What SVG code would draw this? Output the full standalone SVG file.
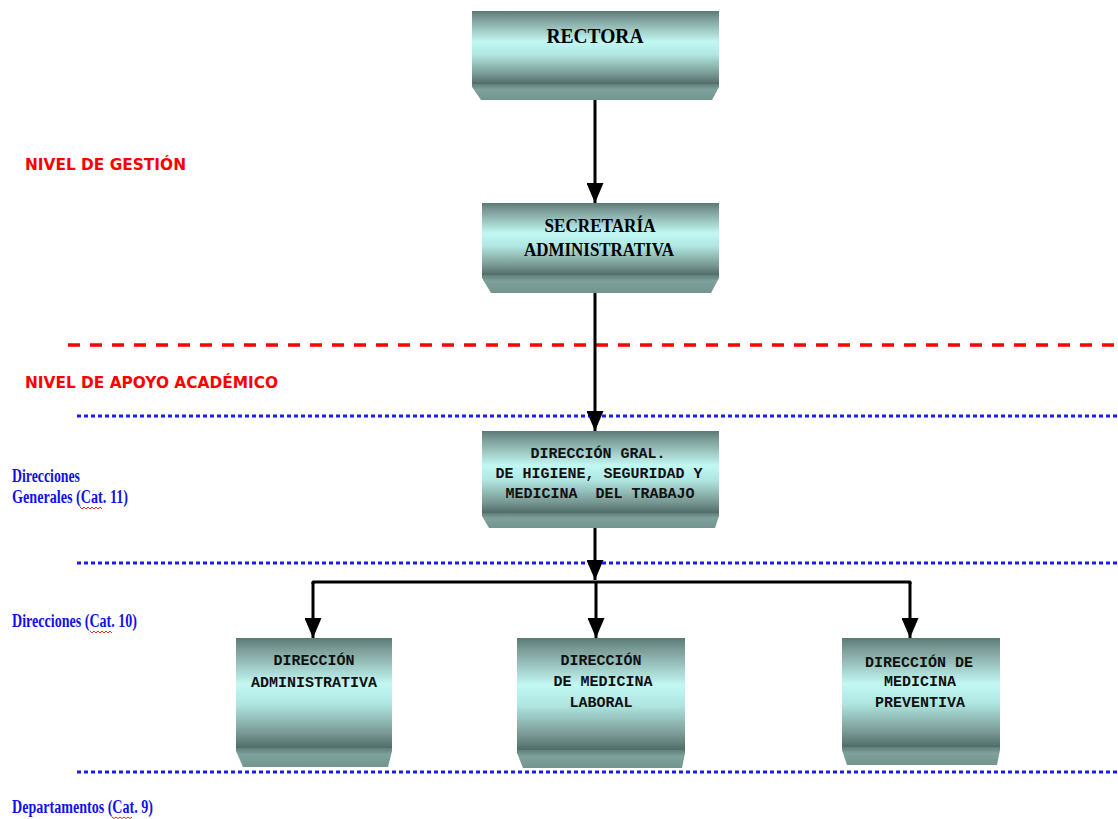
<svg xmlns="http://www.w3.org/2000/svg" width="1118" height="819" viewBox="0 0 1118 819">
  <defs>
    <linearGradient id="bodyGrad" x1="0" y1="0" x2="0" y2="1">
      <stop offset="0" stop-color="#5a7a75"/>
      <stop offset="0.1" stop-color="#7b9b96"/>
      <stop offset="0.42" stop-color="#c2f8f3"/>
      <stop offset="0.6" stop-color="#b0e6e1"/>
      <stop offset="0.86" stop-color="#7a9a95"/>
      <stop offset="1" stop-color="#4f6c68"/>
    </linearGradient>
    <linearGradient id="bandGrad" x1="0" y1="0" x2="0" y2="1">
      <stop offset="0" stop-color="#5f7f7a"/>
      <stop offset="0.35" stop-color="#7fa19b"/>
      <stop offset="1" stop-color="#729590"/>
    </linearGradient>
    <marker id="arrow" markerUnits="userSpaceOnUse" markerWidth="20" markerHeight="17" refX="20" refY="8.5" orient="auto">
      <path d="M0,0 L20,8.5 L0,17 z" fill="#000"/>
    </marker>
  </defs>
  <style>
    .body { fill: url(#bodyGrad); }
    .band { fill: url(#bandGrad); }
    .titleTxt { font-family: "Liberation Serif", serif; font-weight: bold; fill: #000; }
    .monoTxt { font-family: "Liberation Mono", monospace; font-weight: bold; font-size: 15px; fill: #111; }
    .level { font-family: "DejaVu Sans", sans-serif; font-weight: bold; font-size: 16px; fill: #ff0000; }
    .cat { font-family: "Liberation Serif", serif; font-weight: bold; font-size: 18px; fill: #1212e6; }
    .sep { fill: none; stroke: #1a1aff; stroke-width: 3; stroke-dasharray: 4 3; }
    .div { fill: none; stroke: #ff0000; stroke-width: 3.5; stroke-dasharray: 12 10; }
    .wire { fill: none; stroke: #000; stroke-width: 3; }
    .squiggle { fill: none; stroke: #ff2020; stroke-width: 1; }
  </style>

  <rect width="1118" height="819" fill="#fff"/>

  <!-- level separators -->
  <g id="separators">
    <line class="div" x1="68" y1="345" x2="1118" y2="345"/>
    <line class="sep" x1="77" y1="416" x2="1118" y2="416"/>
    <line class="sep" x1="77" y1="563" x2="1118" y2="563"/>
    <line class="sep" x1="77" y1="772" x2="1118" y2="772"/>
  </g>

  <!-- level labels -->
  <g id="labels">
    <text class="level" x="25" y="170" textLength="161" lengthAdjust="spacingAndGlyphs">NIVEL DE GESTIÓN</text>
    <text class="level" x="25" y="388" textLength="253" lengthAdjust="spacingAndGlyphs">NIVEL DE APOYO ACADÉMICO</text>
    <text class="cat" x="12" y="482" textLength="68" lengthAdjust="spacingAndGlyphs">Direcciones</text>
    <text class="cat" x="12" y="503" textLength="116" lengthAdjust="spacingAndGlyphs">Generales (Cat. 11)</text>
    <text class="cat" x="12" y="627" textLength="125" lengthAdjust="spacingAndGlyphs">Direcciones (Cat. 10)</text>
    <text class="cat" x="12" y="813" textLength="141" lengthAdjust="spacingAndGlyphs">Departamentos (Cat. 9)</text>
    <path class="squiggle" d="M80,507 l2,2 l2,-2 l2,2 l2,-2 l2,2 l2,-2 l2,2 l2,-2 l2,2 l2,-2 l2,2"/>
    <path class="squiggle" d="M90,631 l2,2 l2,-2 l2,2 l2,-2 l2,2 l2,-2 l2,2 l2,-2 l2,2 l2,-2 l2,2"/>
    <path class="squiggle" d="M112,817 l2,1.5 l2,-1.5 l2,1.5 l2,-1.5 l2,1.5 l2,-1.5 l2,1.5 l2,-1.5 l2,1.5 l2,-1.5"/>
  </g>

  <!-- connectors -->
  <g id="connectors">
    <line class="wire" x1="595" y1="100" x2="595" y2="203" marker-end="url(#arrow)"/>
    <line class="wire" x1="595" y1="293" x2="595" y2="431" marker-end="url(#arrow)"/>
    <line class="wire" x1="595" y1="528" x2="595" y2="580" marker-end="url(#arrow)"/>
    <path class="wire" d="M313,584 V582 H910 V584" stroke-linejoin="round"/>
    <line class="wire" x1="313" y1="582" x2="313" y2="638" marker-end="url(#arrow)"/>
    <line class="wire" x1="596" y1="582" x2="596" y2="638" marker-end="url(#arrow)"/>
    <line class="wire" x1="910" y1="582" x2="910" y2="638" marker-end="url(#arrow)"/>
  </g>

  <!-- nodes -->
  <g id="rectora">
    <rect class="body" x="472" y="11" width="247" height="73"/>
    <polygon class="band" points="472,84 719,84 719,87 712,100 481,100 472,87"/>
    <text class="titleTxt" x="595" y="43" font-size="21" text-anchor="middle" textLength="97" lengthAdjust="spacingAndGlyphs">RECTORA</text>
  </g>

  <g id="secretaria">
    <rect class="body" x="482" y="203" width="237" height="72"/>
    <polygon class="band" points="482,275 719,275 719,278 711,293 491,293 482,278"/>
    <text class="titleTxt" x="600" y="232" font-size="18" text-anchor="middle" textLength="111" lengthAdjust="spacingAndGlyphs">SECRETARÍA</text>
    <text class="titleTxt" x="599" y="256" font-size="18" text-anchor="middle" textLength="150" lengthAdjust="spacingAndGlyphs">ADMINISTRATIVA</text>
  </g>

  <g id="direccion-general">
    <rect class="body" x="482" y="431" width="237" height="82"/>
    <polygon class="band" points="482,513 719,513 719,516 715,528 489,528 482,516"/>
    <text class="monoTxt" x="598" y="458" text-anchor="middle" font-size="14.5">DIRECCIÓN GRAL.</text>
    <text class="monoTxt" x="599" y="478" text-anchor="middle" font-size="14.5">DE HIGIENE, SEGURIDAD Y</text>
    <text class="monoTxt" x="600" y="498" text-anchor="middle" font-size="14.5" xml:space="preserve">MEDICINA  DEL TRABAJO</text>
  </g>

  <g id="direccion-administrativa">
    <rect class="body" x="236" y="638" width="156" height="110"/>
    <polygon class="band" points="236,748 392,748 392,751 388,767 243,767 236,751"/>
    <text class="monoTxt" x="314" y="665" text-anchor="middle">DIRECCIÓN</text>
    <text class="monoTxt" x="314" y="687" text-anchor="middle">ADMINISTRATIVA</text>
  </g>

  <g id="direccion-medicina-laboral">
    <rect class="body" x="517" y="638" width="168" height="112"/>
    <polygon class="band" points="517,750 685,750 685,753 682,768 523,768 517,753"/>
    <text class="monoTxt" x="601" y="665" text-anchor="middle">DIRECCIÓN</text>
    <text class="monoTxt" x="603" y="686" text-anchor="middle">DE MEDICINA</text>
    <text class="monoTxt" x="601" y="707" text-anchor="middle">LABORAL</text>
  </g>

  <g id="direccion-medicina-preventiva">
    <rect class="body" x="842" y="638" width="158" height="109"/>
    <polygon class="band" points="842,747 1000,747 1000,750 997,765 847,765 842,750"/>
    <text class="monoTxt" x="919" y="667" text-anchor="middle">DIRECCIÓN DE</text>
    <text class="monoTxt" x="920" y="686" text-anchor="middle">MEDICINA</text>
    <text class="monoTxt" x="920" y="707" text-anchor="middle">PREVENTIVA</text>
  </g>
</svg>
